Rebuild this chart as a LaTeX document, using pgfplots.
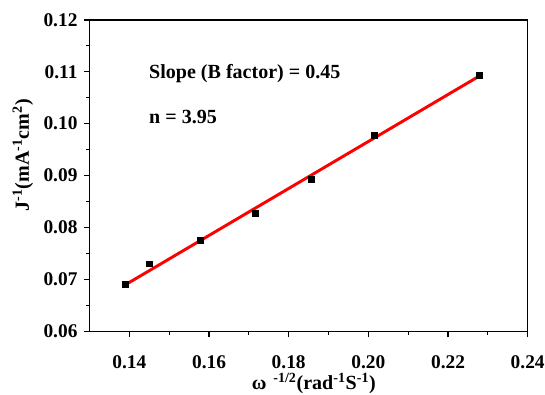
\documentclass[border=0pt]{standalone}
\usepackage{fontspec}
\setmainfont{Liberation Serif}
\usepackage{pgfplots}
\pgfplotsset{compat=1.18}
\begin{document}
\begin{tikzpicture}
\begin{axis}[
  scale only axis,
  width=328pt, height=233pt,
  xmin=0.13, xmax=0.24, ymin=0.06, ymax=0.12,
  xtick={0.14,0.16,...,0.24},
  ytick={0.06,0.07,...,0.12},
  minor x tick num=1, minor y tick num=1,
  tick align=outside,
  xtick pos=bottom, ytick pos=left,
  major tick length=4.5pt, minor tick length=2.5pt,
  axis line style={line width=0.9pt},
  every tick/.style={line width=0.9pt, black},
  /pgf/number format/assume math mode=true,
  /pgf/number format/fixed, /pgf/number format/fixed zerofill,
  xticklabel style={/pgf/number format/precision=2, yshift=-10pt},
  yticklabel style={/pgf/number format/precision=2, xshift=-1pt},
  tick label style={font=\fontsize{14.5}{17}\selectfont\bfseries},
  label style={font=\fontsize{15}{17}\selectfont\bfseries},
  xlabel={ω\,\textsuperscript{ -1/2}(rad\textsuperscript{-1}S\textsuperscript{-1})},
  ylabel={J\textsuperscript{-1}(mA\textsuperscript{-1}cm\textsuperscript{2})},
  xlabel style={at={(ticklabel cs:0.512)}, yshift=3pt},
  ylabel style={at={(ticklabel cs:0.565)}, yshift=1pt},
  clip=false,
]
\addplot[only marks, mark=square*, mark size=2.2pt, black] coordinates {
  (0.1389,0.0691) (0.1450,0.0730) (0.1578,0.0775) (0.1715,0.0828)
  (0.1856,0.0893) (0.2014,0.0977) (0.2279,0.1093)
};
\addplot[red, line width=2.2pt] coordinates {
  (0.1389,0.0689) (0.2279,0.1092)
};
\node[anchor=west, font=\fontsize{15}{17}\selectfont\bfseries] at (axis cs:0.1438,0.1096) {Slope (B factor) = 0.45};
\node[anchor=west, font=\fontsize{15}{17}\selectfont\bfseries] at (axis cs:0.1438,0.1012) {n = 3.95};
\coordinate (bl) at (rel axis cs:-0.2043,-0.2026);
\coordinate (tr) at (rel axis cs:1.0395,1.064);
\end{axis}
\pgfresetboundingbox
\path[use as bounding box] (bl) rectangle (tr);
\end{tikzpicture}
\end{document}
